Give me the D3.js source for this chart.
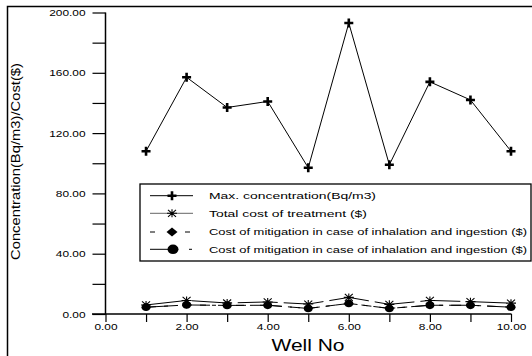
<!DOCTYPE html>
<html><head><meta charset="utf-8">
<script src="https://cdn.jsdelivr.net/npm/d3@7"></script>
<style>body{margin:0;background:#fff}svg{display:block}text{font-family:"Liberation Sans",Arial,sans-serif;fill:#000}</style>
</head><body><svg id="c" width="532" height="356"></svg>
<script>
const wells = [1,2,3,4,5,6,7,8,9,10];
const maxConcentration = [108,157,137,141,97,193,99,154,142,108];
const totalCost = [6,9,7.3,8,6.6,11,6.4,9,8.2,7.2];
const mitigationCostA = [4.5,6,5.7,5.8,3.7,7,3.7,5.8,5.8,4.5];
const mitigationCostB = [4.5,6,5.7,5.8,3.7,7,3.7,5.8,5.8,4.5];
const seriesNames = ["Max. concentration(Bq/m3)","Total cost of treatment ($)","Cost of mitigation in case of inhalation and ingestion ($)","Cost of mitigation in case of inhalation and ingestion ($)"];
const yTicks = d3.range(0,201,20);
const xTicks = d3.range(0,11,1);

const svg = d3.select("#c");
const x = d3.scaleLinear().domain([0,10]).range([105.5,511]);
const y = d3.scaleLinear().domain([0,200]).range([314,12.5]);

// frame
svg.append("rect").attr("x",7.5).attr("y",6.5).attr("width",700).attr("height",500)
  .attr("fill","none").attr("stroke","#000").attr("stroke-width",1.5);

// y axis
const ya = svg.append("g").attr("transform",`translate(${x(0)},0)`)
  .call(d3.axisLeft(y).tickValues(yTicks).tickSize(13).tickPadding(7)
    .tickFormat(d => d%40===0 ? d.toFixed(2) : ""));
ya.select(".domain").remove();
ya.selectAll("line").attr("stroke","#000").attr("stroke-width",1.2);
ya.selectAll("text").style("font-size","9.5px").each(function(){
  const t=d3.select(this); if(t.text()) t.attr("textLength",this.getComputedTextLength()*1.25).attr("lengthAdjust","spacingAndGlyphs");
});
svg.append("line").attr("x1",x(0)).attr("x2",x(0)).attr("y1",y(200)).attr("y2",y(0)).attr("stroke","#000").attr("stroke-width",1.5);

// x axis
const xa = svg.append("g").attr("transform",`translate(0,${y(0)})`)
  .call(d3.axisBottom(x).tickValues(xTicks).tickSize(8).tickPadding(1)
    .tickFormat(d => d%2===0 ? d.toFixed(2) : ""));
xa.select(".domain").remove();
xa.selectAll("line").attr("stroke","#000").attr("stroke-width",1.2);
xa.selectAll("text").style("font-size","9.5px").each(function(){
  const t=d3.select(this); if(t.text()) t.attr("textLength",this.getComputedTextLength()*1.25).attr("lengthAdjust","spacingAndGlyphs");
});
svg.append("line").attr("x1",92).attr("x2",x(10)+0.5).attr("y1",y(0)).attr("y2",y(0)).attr("stroke","#000").attr("stroke-width",1.5);

// axis titles
svg.append("text").attr("transform",`translate(20,${(63+260)/2}) rotate(-90)`)
  .attr("text-anchor","middle").style("font-size","13px")
  .attr("textLength",197).attr("lengthAdjust","spacingAndGlyphs")
  .text("Concentration(Bq/m3)/Cost($)");
svg.append("text").attr("x",308).attr("y",351).attr("text-anchor","middle").style("font-size","17px")
  .attr("textLength",73).attr("lengthAdjust","spacingAndGlyphs").text("Well No");

// markers
function marker(g, type, s){
  s = s||1;
  if(type==="plus"){
    g.append("path").attr("d",`M${-4.5*s},0H${4.5*s}M0,${-4.5*s}V${4.5*s}`).attr("stroke","#000").attr("stroke-width",2.6);
  } else if(type==="star"){
    g.append("path").attr("d",`M${-5*s},0H${5*s}M0,${-4*s}V${4*s}M${-4*s},${-3.5*s}L${4*s},${3.5*s}M${-4*s},${3.5*s}L${4*s},${-3.5*s}`)
      .attr("stroke","#000").attr("stroke-width",1.1).attr("fill","none");
  } else if(type==="diamond"){
    g.append("path").attr("d",`M${-5.5*s},0L0,${-4.5*s}L${5.5*s},0L0,${4.5*s}Z`).attr("fill","#000");
  } else {
    g.append("ellipse").attr("rx",5*s).attr("ry",4.3*s).attr("fill","#000");
  }
}

const series = [
  {vals:maxConcentration, type:"plus", dash:null, color:"#000"},
  {vals:totalCost, type:"star", dash:"40,6", color:"#000"},
  {vals:mitigationCostA, type:"diamond", dash:"10,8", color:"#000"},
  {vals:mitigationCostB, type:"circle", dash:"22,6,4,6", color:"#000"}
];
const line = d3.line().x((d,i)=>x(wells[i])).y(d=>y(d));
series.forEach(s=>{
  svg.append("path").attr("d",line(s.vals)).attr("fill","none").attr("stroke",s.color)
    .attr("stroke-width",1).attr("stroke-dasharray",s.dash);
});
series.slice().reverse().forEach(s=>{
  s.vals.forEach((v,i)=>{
    const g = svg.append("g").attr("transform",`translate(${x(wells[i])},${y(v)})`);
    marker(g, s.type, s.type==="circle"?0.9:(s.type==="diamond"?0.8:1));
  });
});

// legend
svg.append("rect").attr("x",140).attr("y",184).attr("width",391).attr("height",77)
  .attr("fill","#fff").attr("stroke","#000").attr("stroke-width",1.3);
const ly = [195.7,213.3,232,249.3];
const lens = [167,158,318,318];
series.forEach((s,i)=>{
  const g = svg.append("g");
  if(i===0||i===1){
    g.append("line").attr("x1",150).attr("x2",193).attr("y1",ly[i]).attr("y2",ly[i]).attr("stroke",i===1?"#666":"#000").attr("stroke-width",1);
  } else if(i===2){
    g.append("line").attr("x1",150).attr("x2",155).attr("y1",ly[i]).attr("y2",ly[i]).attr("stroke","#000");
    g.append("line").attr("x1",185).attr("x2",190).attr("y1",ly[i]).attr("y2",ly[i]).attr("stroke","#000");
  } else {
    g.append("line").attr("x1",150).attr("x2",170).attr("y1",ly[i]).attr("y2",ly[i]).attr("stroke","#000");
    g.append("line").attr("x1",189).attr("x2",192).attr("y1",ly[i]).attr("y2",ly[i]).attr("stroke","#000");
  }
  const m = g.append("g").attr("transform",`translate(${i===3?173:172},${ly[i]})`);
  marker(m, s.type, s.type==="circle"?1.1:1);
  g.append("text").attr("x",209).attr("y",ly[i]+3.3).style("font-size","9px")
    .attr("textLength",lens[i]).attr("lengthAdjust","spacingAndGlyphs").text(seriesNames[i]);
});
</script></body></html>
